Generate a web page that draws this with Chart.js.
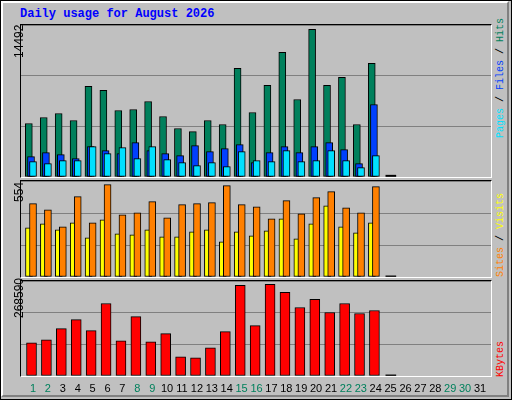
<!DOCTYPE html>
<html><head><meta charset="utf-8">
<script src="https://cdn.jsdelivr.net/npm/chart.js@4"></script>
<style>
body{margin:0;background:#c0c0c0;}
#w{position:absolute;left:0;top:0;width:510px;height:398px;border:1px solid #000;background:#c0c0c0;}
#in{position:absolute;left:1px;top:1px;width:504px;height:392px;border-top:2px solid #fff;border-left:2px solid #fff;border-bottom:2px solid #808080;border-right:2px solid #808080;}
.p{position:absolute;left:20px;width:470px;border-top:1px solid #000;border-left:1px solid #000;border-bottom:1px solid #fff;border-right:1px solid #fff;}
.p div{position:absolute;left:0;top:0;width:100%;height:100%;}
.t{position:absolute;font-family:"Liberation Mono",monospace;font-weight:bold;font-size:12px;white-space:nowrap;}
.v{position:absolute;font-family:"Liberation Sans",Arial,sans-serif;font-size:12px;white-space:nowrap;transform-origin:0 0;transform:rotate(-90deg);}
.r{position:absolute;font-family:"Liberation Mono",monospace;font-size:10px;white-space:nowrap;transform-origin:0 0;transform:rotate(-90deg);}
.d{position:absolute;top:382px;font-family:"Liberation Sans",Arial,sans-serif;font-size:11px;width:20px;text-align:center;}
</style></head><body>
<div id="w"></div><div id="in"></div>
<div class="t" style="left:20px;top:7px;color:#0000ff">Daily usage for August 2026</div>
<div class="p" style="top:24px;height:152px"><div><canvas id="c1"></canvas></div></div>
<div class="p" style="top:180px;height:96px"><div><canvas id="c2"></canvas></div></div>
<div class="p" style="top:280px;height:95px"><div><canvas id="c3"></canvas></div></div>
<div class="v" style="left:12px;top:58px">14492</div>
<div class="v" style="left:12px;top:202px">554</div>
<div class="v" style="left:12px;top:318px">268590</div>
<div class="r" style="left:495px;top:138px"><span style="color:#00e0ff">Pages</span> / <span style="color:#0040ff">Files</span> / <span style="color:#00805c">Hits</span></div>
<div class="r" style="left:495px;top:277px"><span style="color:#ff8000">Sites</span> / <span style="color:#ffff00">Visits</span></div>
<div class="r" style="left:495px;top:377px"><span style="color:#ff0000">KBytes</span></div>
<div id="days"></div>
<script>
const days = Array.from({length:31},(_,i)=>i+1);
const weekend = [1,2,8,9,15,16,22,23,29,30];
const hits = [5246,5837,6230,5541,8886,8493,6525,6624,7411,5935,4755,4459,5541,5148,10657,6328,8984,12231,7607,14492,8984,9771,5148,11149];
const files = [2000,2394,2197,1803,2984,2590,2295,3377,2590,2295,2099,3082,2492,2787,3181,1410,2394,2984,2394,2984,3377,2689,1312,7115];
const pages = [1508,1312,1607,1607,2984,2295,2886,1803,2984,1705,1410,1115,1410,1016,2492,1607,1508,2590,1508,1607,2590,1607,918,2099];
const visitsOrange = [440,403,301,482,325,554,373,385,452,355,434,440,446,548,434,421,349,458,379,476,512,415,385,542];
const sitesYellow = [295,319,283,325,235,343,259,253,283,241,241,271,283,211,271,247,277,349,229,319,427,301,265,325];
const kbytes = [97400,106250,138720,165280,132810,212500,103300,174130,100350,123960,56080,53130,82640,129860,265630,147570,268590,244970,200700,224310,185940,212500,182990,191840];
const todayDay = 25;

const X0 = 1 - 12/14.9, X1 = 31 + 10.7/14.9;
function pts(arr, off){ return arr.map((v,i)=>({x:i+1+off, y:v})); }
function mk(id, datasets, ymax){
  new Chart(document.getElementById(id), {
    type:'bar',
    data:{datasets},
    options:{
      responsive:true, maintainAspectRatio:false, animation:false,
      layout:{padding:0},
      plugins:{legend:{display:false}, tooltip:{enabled:false}},
      scales:{
        x:{type:'linear', min:X0, max:X1, offset:false, display:false},
        y:{min:0, max:ymax, ticks:{display:false, stepSize:ymax/3}, grid:{color:'#808080', drawTicks:false, lineWidth:1}, border:{display:false}}
      }
    }
  });
}
const B = {borderColor:'#000', borderWidth:1, grouped:false, borderSkipped:false};
const marker = ymax => ({...B, data:[{x:todayDay, y:ymax*0.012}], backgroundColor:'#000', barThickness:10, borderWidth:0});
const m1 = 14492*151.7/147.4;
mk('c1', [
  {...B, data:pts(pages,0), backgroundColor:'#00e0ff', barThickness:7},
  {...B, data:pts(files,-0.134), backgroundColor:'#0040ff', barThickness:7},
  {...B, data:pts(hits,-0.28), backgroundColor:'#00805c', barThickness:7},
  marker(m1)
], m1);
const m2 = 554*95.6/92;
mk('c2', [
  {...B, data:pts(visitsOrange,0), backgroundColor:'#ff8000', barThickness:7},
  {...B, data:pts(sitesYellow,-0.27), backgroundColor:'#ffff00', barThickness:7},
  marker(m2)
], m2);
const m3 = 268590*94.3/91;
mk('c3', [
  {...B, data:pts(kbytes,-0.1), backgroundColor:'#ff0000', barThickness:10},
  marker(m3)
], m3);

const dd = document.getElementById('days');
days.forEach(d=>{
  const s=document.createElement('div'); s.className='d';
  s.style.left=(33+14.9*(d-1)-10)+'px';
  s.style.color = weekend.includes(d)?'#00805c':'#000';
  s.textContent=d; dd.appendChild(s);
});
</script>
</body></html>
